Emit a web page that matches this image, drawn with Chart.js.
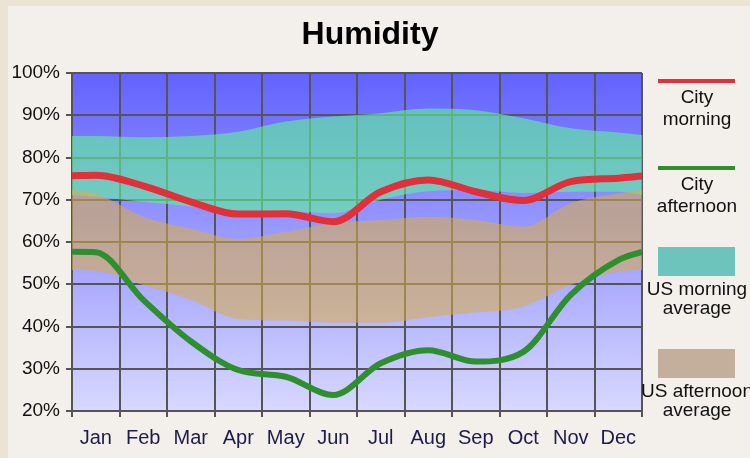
<!DOCTYPE html>
<html>
<head>
<meta charset="utf-8">
<title>Humidity</title>
<script src="https://cdn.jsdelivr.net/npm/chart.js@4.4.1/dist/chart.umd.min.js"></script>
<style>
  body { margin: 0; background: #f3f0ec; }
  #wrap { position: relative; width: 750px; height: 458px; overflow: hidden; }
  #edgeTop { position: absolute; left: 0; top: 0; width: 750px; height: 6px; background: #ebe3d3; }
  #edgeLeft { position: absolute; left: 0; top: 0; width: 8px; height: 458px; background: #ebe3d3; }
  canvas { position: absolute; left: 0; top: 0; }
</style>
</head>
<body>
<div id="wrap">
  <div id="edgeTop"></div>
  <div id="edgeLeft"></div>
  <canvas id="chart" width="750" height="458"></canvas>
</div>
<script>
var months = ['Jan', 'Feb', 'Mar', 'Apr', 'May', 'Jun', 'Jul', 'Aug', 'Sep', 'Oct', 'Nov', 'Dec'];

// values: year start edge, Jan..Dec, year end edge
var cityMorning   = [75.7, 75.8, 73.3, 69.5, 66.6, 66.7, 64.8, 71.9, 74.7, 71.9, 69.8, 74.3, 75.1, 75.6];
var cityAfternoon = [57.7, 57.6, 46.3, 36.5, 29.7, 28.1, 23.8, 31.3, 34.4, 31.7, 34.0, 47.5, 55.7, 57.7];
var usMorningHigh = [85.1, 85.1, 84.8, 85.1, 86.1, 88.5, 89.7, 90.5, 91.6, 91.2, 89.3, 86.9, 85.9, 85.3];
var usMorningLow  = [71.1, 70.7, 69.5, 68.4, 67.2, 67.2, 66.8, 70.0, 72.0, 72.3, 71.6, 71.9, 71.9, 71.1];
var usAfternoonHigh = [72.3, 71.5, 66.0, 63.2, 60.7, 62.4, 64.5, 65.2, 66.0, 65.2, 63.6, 69.2, 71.5, 72.3];
var usAfternoonLow  = [53.4, 53.2, 49.8, 46.3, 41.8, 41.4, 40.9, 40.9, 42.2, 43.3, 44.7, 49.8, 53.0, 53.4];

var yTicks = [20, 30, 40, 50, 60, 70, 80, 90, 100];
var legendLabels = [['City', 'morning'], ['City', 'afternoon'], ['US morning', 'average'], ['US afternoon', 'average']];

var FONT = "'Liberation Sans', Arial, sans-serif";
var RED = '#e0303a';
var GREEN = '#2d8f2d';
var TEAL = 'rgba(95, 245, 150, 0.6)';
var TAN = 'rgba(216, 172, 74, 0.57)';
var GRID = '#555555';

// month centres plus both edges of the year
var monthPos = [0].concat(months.map(function(m, i) { return i + 0.5; }), [12]);

function toPoints(values) {
    return values.map(function(v, i) { return { x: monthPos[i], y: v }; });
}

function isEdge(ctx) {
    return ctx.tick && Number.isInteger(ctx.tick.value);
}

var plotBackground = {
    id: 'plotBackground',
    beforeDraw: function(chart) {
        var a = chart.chartArea;
        var ctx = chart.ctx;
        var g = ctx.createLinearGradient(0, a.top, 0, a.bottom);
        g.addColorStop(0, '#6262ff');
        g.addColorStop(1, '#d8d8ff');
        ctx.save();
        ctx.fillStyle = g;
        ctx.fillRect(a.left, a.top, a.right - a.left, a.bottom - a.top);
        ctx.restore();
    }
};

var sideLegend = {
    id: 'sideLegend',
    afterDraw: function(chart) {
        var ctx = chart.ctx;
        var cx = 697;
        ctx.save();
        ctx.font = '19px ' + FONT;
        ctx.textAlign = 'center';
        ctx.textBaseline = 'middle';

        ctx.fillStyle = RED;
        ctx.fillRect(658, 79, 77, 4);
        ctx.fillStyle = GREEN;
        ctx.fillRect(658, 166, 77, 4);
        ctx.fillStyle = '#6cc4bc';
        ctx.fillRect(658, 247, 77, 29);
        ctx.fillStyle = '#c4ae9c';
        ctx.fillRect(658, 349, 77, 29);

        var rows = [[98, 120], [185, 207], [290, 309], [392, 411]];
        ctx.fillStyle = '#111';
        for (let i = 0; i < legendLabels.length; i++) {
            ctx.fillText(legendLabels[i][0], cx, rows[i][0]);
            ctx.fillText(legendLabels[i][1], cx, rows[i][1]);
        }
        ctx.restore();
    }
};

function band(values, fill, color, order) {
    return {
        data: toPoints(values),
        fill: fill,
        backgroundColor: color,
        borderWidth: 0,
        pointRadius: 0,
        cubicInterpolationMode: 'monotone',
        order: order
    };
}

new Chart(document.getElementById('chart'), {
    type: 'line',
    data: {
        datasets: [
            { label: 'City morning', data: toPoints(cityMorning), borderColor: RED, borderWidth: 7,
              pointRadius: 0, cubicInterpolationMode: 'monotone', fill: false, order: 0 },
            { label: 'City afternoon', data: toPoints(cityAfternoon), borderColor: GREEN, borderWidth: 6,
              pointRadius: 0, cubicInterpolationMode: 'monotone', fill: false, order: 0 },
            band(usAfternoonHigh, '+1', TAN, 1),
            band(usAfternoonLow, false, 'transparent', 1),
            band(usMorningHigh, '+1', TEAL, 2),
            band(usMorningLow, false, 'transparent', 2)
        ]
    },
    options: {
        responsive: false,
        animation: false,
        layout: { padding: { right: 10 } },
        plugins: {
            legend: { display: false },
            tooltip: { enabled: false },
            title: {
                display: true,
                text: 'Humidity',
                color: '#000',
                font: { family: FONT, size: 32, weight: 'bold', lineHeight: 1.2 },
                padding: { top: 16, bottom: 18.6 }
            }
        },
        scales: {
            x: {
                type: 'linear',
                min: 0,
                max: 12,
                afterFit: function(s) { s.height = 47; },
                border: { color: GRID, width: 2 },
                grid: {
                    color: function(ctx) { return isEdge(ctx) ? GRID : 'transparent'; },
                    tickColor: function(ctx) { return isEdge(ctx) ? GRID : 'transparent'; },
                    lineWidth: 2,
                    tickLength: 6
                },
                ticks: {
                    stepSize: 0.5,
                    autoSkip: false,
                    maxRotation: 0,
                    padding: 9,
                    color: '#1c1c48',
                    font: { family: FONT, size: 20 },
                    callback: function(v) { return Number.isInteger(v) ? '' : months[Math.floor(v)]; }
                }
            },
            y: {
                min: yTicks[0],
                max: yTicks[yTicks.length - 1],
                afterFit: function(s) { s.width = 72; },
                border: { color: GRID, width: 2 },
                grid: { color: GRID, lineWidth: 2, tickLength: 6 },
                ticks: {
                    stepSize: 10,
                    padding: 6,
                    color: '#111',
                    font: { family: FONT, size: 19 },
                    callback: function(v) { return v + '%'; }
                }
            },
            side: {
                position: 'right',
                display: true,
                afterFit: function(s) { s.width = 98; },
                grid: { display: false },
                border: { display: false },
                ticks: { display: false }
            }
        }
    },
    plugins: [plotBackground, sideLegend]
});
</script>
</body>
</html>
